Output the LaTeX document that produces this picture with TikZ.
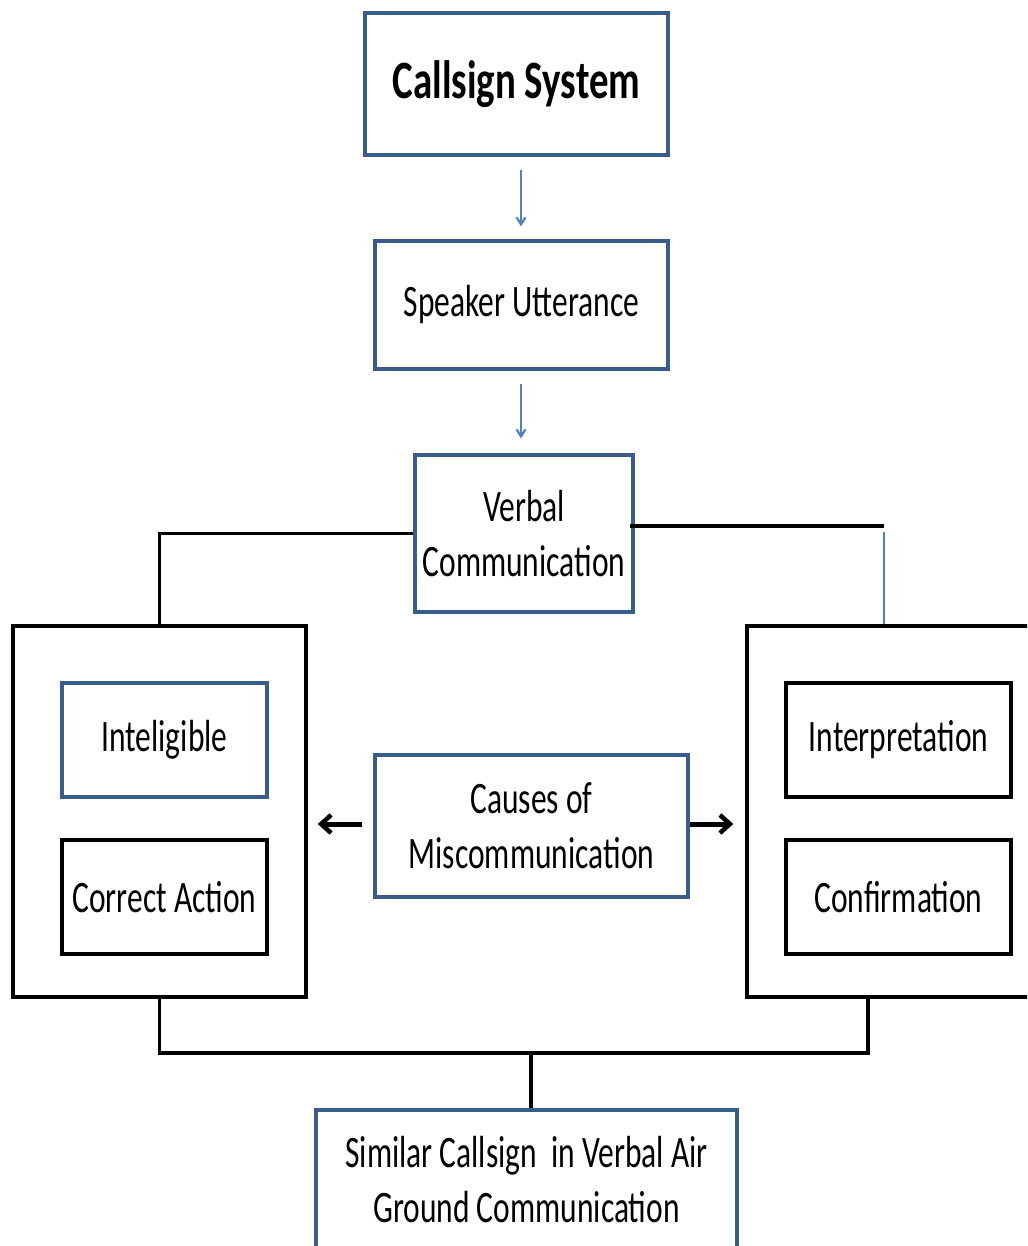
\documentclass[tikz,border=0pt]{standalone}
\usepackage{fontspec}
\setmainfont{Carlito}[FakeStretch=0.70,BoldFeatures={FakeStretch=0.72}]
\usetikzlibrary{arrows.meta}
\definecolor{bborder}{RGB}{56,93,138}
\definecolor{barrow}{RGB}{79,129,189}
\begin{document}
\begin{tikzpicture}[x=1pt,y=-1pt,
  txt/.style={align=center, inner sep=0pt, text=black, font=\fontsize{45}{55}\selectfont},
  bluebox/.style={txt, draw=bborder, line width=3.2pt},
  blackbox/.style={txt, draw=black, line width=3.4pt},
  conn/.style={line width=3.4pt, black},
  thinarrow/.style={line width=2.4pt, barrow, -{Straight Barb[length=7pt,width=9pt,line width=2.2pt]}},
  bigarrow/.style={line width=5pt, black, -{Straight Barb[length=10pt,width=18pt,line width=4.5pt]}}]
\useasboundingbox (0,0) rectangle (1027,1246);
\clip (0,0) rectangle (1027,1246);

\node[bluebox, minimum width=303pt, minimum height=142pt, font=\fontsize{54}{60}\selectfont\bfseries] (cs) at (516.5,84) {Callsign System};
\node[bluebox, minimum width=293pt, minimum height=128pt] (su) at (521.5,305) {Speaker Utterance};
\node[bluebox, minimum width=218pt, minimum height=157pt] (vc) at (524,533.5) {Verbal\\Communication};

\node[blackbox, minimum width=293pt, minimum height=371pt] (lb) at (159.5,811.5) {};
\node[bluebox, minimum width=205pt, minimum height=114pt] (in) at (164.5,740) {Inteligible};
\node[blackbox, minimum width=205pt, minimum height=114pt] (ca) at (164.5,897) {Correct Action};

\node[bluebox, minimum width=313pt, minimum height=142pt] (cm) at (531.5,826) {Causes of\\Miscommunication};

\node[blackbox, minimum width=293pt, minimum height=371pt] (rb) at (893.5,811.5) {};
\node[blackbox, minimum width=225pt, minimum height=114pt] (ip) at (898.5,740) {Interpretation};
\node[blackbox, minimum width=225pt, minimum height=114pt] (cf) at (898.5,897) {Confirmation};

\node[bluebox, minimum width=421pt, minimum height=140pt] (sc) at (526.5,1180) {Similar Callsign\ \ in Verbal Air\\Ground Communication};

\coordinate (rc) at (884,526);
\coordinate (rbot) at (868,997);
\coordinate (bj) at (531,1053);

\draw[thinarrow, shorten <=13pt, shorten >=13pt] (cs.south -| 521,0) -- (su.north -| 521,0);
\draw[thinarrow, shorten <=13pt, shorten >=15pt] (su.south -| 521,0) -- (vc.north -| 521,0);

\draw[conn] (vc.west) -| (lb.north);
\draw[conn] ([yshift=7.5pt,xshift=-5pt]vc.east) -- (rc);
\draw[line width=2.4pt, barrow] ([yshift=-6pt]rc) -- (rc |- rb.north);

\draw[bigarrow, shorten <=11pt, shorten >=10pt] ([yshift=2pt]cm.west) -- ([yshift=2pt]cm.west -| lb.east);
\draw[bigarrow, shorten >=12pt] ([yshift=2pt]cm.east) -- ([yshift=2pt]cm.east -| rb.west);

\draw[conn] (lb.south) |- (rbot |- bj) -- (rbot);
\draw[conn] (bj) -- (bj |- sc.north);
\end{tikzpicture}
\end{document}
